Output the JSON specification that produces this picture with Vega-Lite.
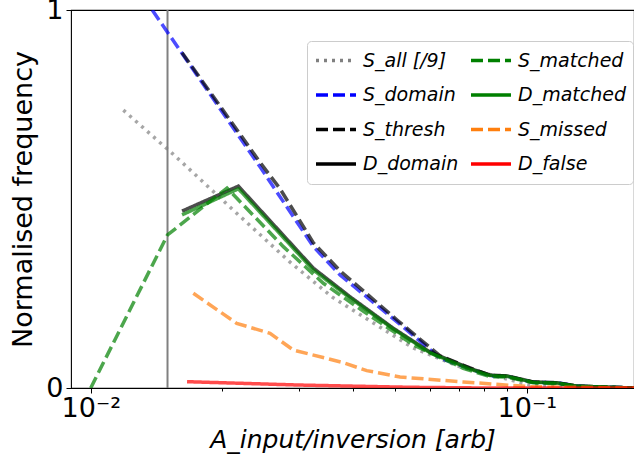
{
  "$schema": "https://vega.github.io/schema/vega-lite/v6.json",
  "width": 563,
  "height": 378,
  "autosize": {"type": "none"},
  "padding": {"left": 71, "top": 10, "right": 0, "bottom": 80},
  "config": {
    "font": "DejaVu Sans",
    "view": {"stroke": "#000000", "strokeWidth": 1.1},
    "axis": {"domain": false, "grid": false, "tickColor": "#000000", "labelColor": "#000000", "titleColor": "#000000", "titleFontWeight": "normal", "labelFont": "DejaVu Sans", "titleFont": "DejaVu Sans"}
  },
  "datasets": {
    "curves": [
      {"series": "S_all [/9]", "a": 0.01188, "f": 0.735},
      {"series": "S_all [/9]", "a": 0.01561, "f": 0.614},
      {"series": "S_all [/9]", "a": 0.02121, "f": 0.471},
      {"series": "S_all [/9]", "a": 0.02865, "f": 0.333},
      {"series": "S_all [/9]", "a": 0.03575, "f": 0.241},
      {"series": "S_all [/9]", "a": 0.05485, "f": 0.106},
      {"series": "S_all [/9]", "a": 0.07031, "f": 0.056},
      {"series": "S_all [/9]", "a": 0.1018, "f": 0.008},
      {"series": "S_all [/9]", "a": 0.14, "f": 0.002},
      {"series": "S_all [/9]", "a": 0.1765, "f": 0.0},

      {"series": "S_domain", "a": 0.01188, "f": 1.111},
      {"series": "S_domain", "a": 0.02445, "f": 0.585},
      {"series": "S_domain", "a": 0.03241, "f": 0.374},
      {"series": "S_domain", "a": 0.03731, "f": 0.299},
      {"series": "S_domain", "a": 0.05041, "f": 0.175},
      {"series": "S_domain", "a": 0.06326, "f": 0.079},
      {"series": "S_domain", "a": 0.08237, "f": 0.032},
      {"series": "S_domain", "a": 0.09013, "f": 0.031},
      {"series": "S_domain", "a": 0.1034, "f": 0.015},
      {"series": "S_domain", "a": 0.1174, "f": 0.014},
      {"series": "S_domain", "a": 0.1304, "f": 0.005},
      {"series": "S_domain", "a": 0.1765, "f": 0.0},

      {"series": "S_thresh", "a": 0.0162, "f": 0.887},
      {"series": "S_thresh", "a": 0.02445, "f": 0.597},
      {"series": "S_thresh", "a": 0.02718, "f": 0.527},
      {"series": "S_thresh", "a": 0.03241, "f": 0.384},
      {"series": "S_thresh", "a": 0.03731, "f": 0.31},
      {"series": "S_thresh", "a": 0.05041, "f": 0.18},
      {"series": "S_thresh", "a": 0.06326, "f": 0.085},
      {"series": "S_thresh", "a": 0.07413, "f": 0.053},
      {"series": "S_thresh", "a": 0.08237, "f": 0.034},
      {"series": "S_thresh", "a": 0.09013, "f": 0.031},
      {"series": "S_thresh", "a": 0.1034, "f": 0.016},
      {"series": "S_thresh", "a": 0.1174, "f": 0.013},
      {"series": "S_thresh", "a": 0.1304, "f": 0.005},
      {"series": "S_thresh", "a": 0.1765, "f": 0.0},

      {"series": "D_domain", "a": 0.0162, "f": 0.468},
      {"series": "D_domain", "a": 0.02181, "f": 0.534},
      {"series": "D_domain", "a": 0.03241, "f": 0.317},
      {"series": "D_domain", "a": 0.03932, "f": 0.2415},
      {"series": "D_domain", "a": 0.04943, "f": 0.158},
      {"series": "D_domain", "a": 0.06001, "f": 0.095},
      {"series": "D_domain", "a": 0.07413, "f": 0.052},
      {"series": "D_domain", "a": 0.08237, "f": 0.034},
      {"series": "D_domain", "a": 0.09013, "f": 0.032},
      {"series": "D_domain", "a": 0.1034, "f": 0.016},
      {"series": "D_domain", "a": 0.1174, "f": 0.014},
      {"series": "D_domain", "a": 0.1304, "f": 0.005},
      {"series": "D_domain", "a": 0.1765, "f": 0.0},

      {"series": "S_matched", "a": 0.01, "f": 0.0},
      {"series": "S_matched", "a": 0.015, "f": 0.405},
      {"series": "S_matched", "a": 0.02054, "f": 0.529},
      {"series": "S_matched", "a": 0.02765, "f": 0.374},
      {"series": "S_matched", "a": 0.03416, "f": 0.277},
      {"series": "S_matched", "a": 0.0422, "f": 0.203},
      {"series": "S_matched", "a": 0.05494, "f": 0.114},
      {"series": "S_matched", "a": 0.07153, "f": 0.052},
      {"series": "S_matched", "a": 0.08237, "f": 0.03},
      {"series": "S_matched", "a": 0.09013, "f": 0.029},
      {"series": "S_matched", "a": 0.1034, "f": 0.014},
      {"series": "S_matched", "a": 0.1174, "f": 0.012},
      {"series": "S_matched", "a": 0.1304, "f": 0.004},
      {"series": "S_matched", "a": 0.1765, "f": 0.0},

      {"series": "D_matched", "a": 0.0162, "f": 0.458},
      {"series": "D_matched", "a": 0.02181, "f": 0.527},
      {"series": "D_matched", "a": 0.03241, "f": 0.312},
      {"series": "D_matched", "a": 0.03932, "f": 0.238},
      {"series": "D_matched", "a": 0.04943, "f": 0.156},
      {"series": "D_matched", "a": 0.06001, "f": 0.093},
      {"series": "D_matched", "a": 0.07413, "f": 0.05},
      {"series": "D_matched", "a": 0.08237, "f": 0.033},
      {"series": "D_matched", "a": 0.09013, "f": 0.031},
      {"series": "D_matched", "a": 0.1034, "f": 0.015},
      {"series": "D_matched", "a": 0.1174, "f": 0.013},
      {"series": "D_matched", "a": 0.1304, "f": 0.005},
      {"series": "D_matched", "a": 0.1765, "f": 0.0},

      {"series": "S_missed", "a": 0.01719, "f": 0.2505},
      {"series": "S_missed", "a": 0.02162, "f": 0.171},
      {"series": "S_missed", "a": 0.02578, "f": 0.1447},
      {"series": "S_missed", "a": 0.02915, "f": 0.1005},
      {"series": "S_missed", "a": 0.03796, "f": 0.067},
      {"series": "S_missed", "a": 0.04296, "f": 0.046},
      {"series": "S_missed", "a": 0.05122, "f": 0.029},
      {"series": "S_missed", "a": 0.07144, "f": 0.016},
      {"series": "S_missed", "a": 0.1018, "f": 0.0034},
      {"series": "S_missed", "a": 0.1765, "f": 0.0},

      {"series": "D_false", "a": 0.01663, "f": 0.0167},
      {"series": "D_false", "a": 0.02989, "f": 0.0079},
      {"series": "D_false", "a": 0.05399, "f": 0.0019},
      {"series": "D_false", "a": 0.08, "f": 0.0},
      {"series": "D_false", "a": 0.1765, "f": 0.0}
    ]
  },
  "layer": [
    {
      "data": {"values": [{"marker": "limit"}]},
      "mark": {"type": "rule", "color": "#808080", "strokeWidth": 2},
      "encoding": {
        "x": {"datum": 0.015, "type": "quantitative"}
      }
    },
    {
      "data": {"name": "curves"},
      "mark": {"type": "line", "strokeWidth": 3.5, "strokeOpacity": 0.7, "clip": true, "strokeCap": "butt", "strokeJoin": "miter"},
      "encoding": {
        "x": {
          "field": "a", "type": "quantitative",
          "scale": {"type": "log", "domain": [0.00901, 0.1762], "nice": false},
          "axis": {
            "values": [0.01, 0.02, 0.03, 0.04, 0.05, 0.06, 0.07, 0.08, 0.09, 0.1],
            "labelExpr": "datum.value == 0.01 ? '10⁻²' : datum.value == 0.1 ? '10⁻¹' : ''",
            "tickSize": {"condition": {"test": "datum.value == 0.01 || datum.value == 0.1", "value": 5}, "value": 3},
            "labelFontSize": 27,
            "labelPadding": 2,
            "labelFlush": false,
            "labelOverlap": false,
            "titleFontSize": 25,
            "titleFontStyle": "italic",
            "titlePadding": 6
          },
          "title": "A_input/inversion [arb]"
        },
        "y": {
          "field": "f", "type": "quantitative",
          "scale": {"domain": [0, 1], "nice": false},
          "axis": {
            "values": [0, 1],
            "format": "d",
            "labelFontSize": 27,
            "tickSize": 5,
            "labelPadding": 3,
            "titleFontSize": 27,
            "titlePadding": 8
          },
          "title": "Normalised frequency"
        },
        "color": {
          "field": "series", "type": "nominal",
          "scale": {
            "domain": ["S_all [/9]", "S_domain", "S_thresh", "D_domain", "S_matched", "D_matched", "S_missed", "D_false"],
            "range": ["#808080", "#0000ff", "#000000", "#000000", "#008000", "#008000", "#ff7f0e", "#ff0000"]
          },
          "legend": {
            "title": null, "orient": "none", "legendX": 236, "legendY": 31, "columns": 2,
            "symbolType": "stroke", "symbolSize": 1600, "symbolStrokeWidth": 3.5, "symbolOpacity": 1,
            "clipHeight": 25, "rowPadding": 9.5, "columnPadding": 10, "padding": 7,
            "labelFontSize": 19, "labelFont": "DejaVu Sans", "labelFontStyle": "italic", "labelColor": "#000000",
            "labelOffset": 5, "labelLimit": 0,
            "strokeColor": "#cccccc", "fillColor": "rgba(255,255,255,0.8)", "cornerRadius": 4
          }
        },
        "strokeDash": {
          "field": "series", "type": "nominal",
          "scale": {
            "domain": ["S_all [/9]", "S_domain", "S_thresh", "D_domain", "S_matched", "D_matched", "S_missed", "D_false"],
            "range": [[3, 5], [12, 5], [12, 5], [1, 0], [12, 5], [1, 0], [12, 5], [1, 0]]
          },
          "legend": {
            "title": null, "orient": "none", "legendX": 236, "legendY": 31, "columns": 2,
            "symbolType": "stroke", "symbolSize": 1600, "symbolStrokeWidth": 3.5, "symbolOpacity": 1,
            "clipHeight": 25, "rowPadding": 9.5, "columnPadding": 10, "padding": 7,
            "labelFontSize": 19, "labelFont": "DejaVu Sans", "labelFontStyle": "italic", "labelColor": "#000000",
            "labelOffset": 5, "labelLimit": 0,
            "strokeColor": "#cccccc", "fillColor": "rgba(255,255,255,0.8)", "cornerRadius": 4
          }
        }
      }
    }
  ]
}
